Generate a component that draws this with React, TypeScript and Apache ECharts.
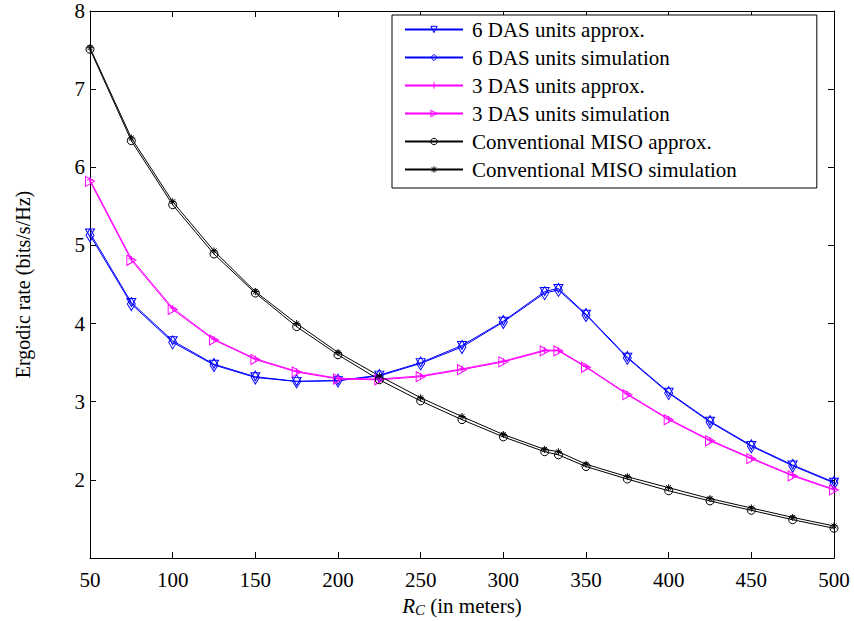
import React, { useEffect, useRef } from "react";
import * as echarts from "echarts";

const xs = [50, 75, 100, 125, 150, 175, 200, 225, 250, 275, 300, 325, 333.33, 350, 375, 400, 425, 450, 475, 500];

const das6Approx = [5.16, 4.27, 3.78, 3.48, 3.32, 3.26, 3.27, 3.34, 3.5, 3.72, 4.03, 4.41, 4.45, 4.12, 3.57, 3.12, 2.75, 2.44, 2.19, 1.97];
const das6Sim = [5.13, 4.25, 3.76, 3.47, 3.31, 3.26, 3.27, 3.33, 3.49, 3.7, 4.02, 4.39, 4.43, 4.11, 3.56, 3.11, 2.74, 2.43, 2.18, 1.96];
const das3Approx = [5.84, 4.83, 4.2, 3.8, 3.55, 3.39, 3.3, 3.29, 3.33, 3.42, 3.52, 3.66, 3.66, 3.45, 3.1, 2.78, 2.51, 2.28, 2.06, 1.88];
const das3Sim = [5.82, 4.81, 4.18, 3.79, 3.54, 3.38, 3.29, 3.28, 3.32, 3.41, 3.51, 3.65, 3.65, 3.44, 3.09, 2.77, 2.5, 2.27, 2.05, 1.87];
const misoApprox = [7.51, 6.34, 5.52, 4.89, 4.39, 3.96, 3.6, 3.28, 3.01, 2.77, 2.55, 2.36, 2.32, 2.17, 2.01, 1.86, 1.73, 1.61, 1.49, 1.38];
const misoSim = [7.53, 6.375, 5.56, 4.93, 4.41, 4.0, 3.63, 3.33, 3.05, 2.81, 2.58, 2.39, 2.36, 2.2, 2.04, 1.9, 1.76, 1.64, 1.52, 1.41];

const seriesNames = [
  "6 DAS units approx.",
  "6 DAS units simulation",
  "3 DAS units approx.",
  "3 DAS units simulation",
  "Conventional MISO approx.",
  "Conventional MISO simulation",
];

const FONT = "'Liberation Serif', 'DejaVu Serif', serif";

const SYM_TRI_DOWN = "path://M0,0 L10,0 L5,9 Z";
const SYM_DIAMOND = "path://M5,0 L9,8 L5,16 L1,8 Z";
const SYM_PLUS = "path://M5,0 L5,10 M0,5 L10,5";
const SYM_TRI_RIGHT = "path://M0,0 L9,5 L0,10 Z";
const SYM_CIRCLE = "path://M5,0 A5,5 0 1,1 4.99,0 Z";
const SYM_STAR = "path://M5,0 L5,10 M0,5 L10,5 M1.5,1.5 L8.5,8.5 M8.5,1.5 L1.5,8.5";

export default function App() {
  const ref = useRef<HTMLDivElement>(null);
  useEffect(() => {
    if (!ref.current) return;
    const chart = echarts.init(ref.current, null, { renderer: "svg" });
    const mk = (name: string, ys: number[], color: string, symbol: string, size: number | number[]) => ({
      name,
      type: "line",
      data: xs.map((x, i) => [x, ys[i]]),
      symbol,
      symbolSize: size,
      showAllSymbol: true,
      lineStyle: { color, width: 1 },
      itemStyle: { color: "rgba(0,0,0,0)", borderColor: color, borderWidth: 1 },
      emphasis: { disabled: true },
      z: 3,
    });
    const axisLine = { show: true, lineStyle: { color: "#000", width: 1 } };
    const tick = { inside: true, length: 6, lineStyle: { color: "#000" } };
    chart.setOption({
      animation: false,
      backgroundColor: "#fff",
      grid: { left: 90, right: 20, top: 11, bottom: 63, outerBoundsMode: "none", containLabel: false },
      legend: {
        data: seriesNames,
        orient: "vertical",
        left: 392,
        top: 15,
        itemWidth: 58,
        itemHeight: 8,
        itemGap: 7,
        padding: [4, 80, 8, 12],
        borderColor: "#000",
        borderWidth: 1,
        backgroundColor: "#fff",
        itemStyle: { color: "rgba(0,0,0,0)", borderWidth: 1 },
        textStyle: { fontFamily: FONT, fontSize: 21, color: "#000", padding: [0, 0, 0, 4] },
      },
      xAxis: [
        {
          type: "value",
          min: 50,
          max: 500,
          interval: 50,
          axisLine,
          axisTick: tick,
          axisLabel: { fontFamily: FONT, fontSize: 21, color: "#000", margin: 11 },
          splitLine: { show: false },
          name: "{i|R}{s|C} (in meters)",
          nameLocation: "middle",
          nameGap: 36,
          nameTextStyle: {
            fontFamily: FONT,
            fontSize: 21,
            color: "#000",
            rich: {
              i: { fontFamily: FONT, fontSize: 21, fontStyle: "italic", color: "#000" },
              s: { fontFamily: FONT, fontSize: 15, fontStyle: "italic", color: "#000", padding: [8, 0, 0, 0] },
            },
          },
        },
        {
          type: "value",
          position: "top",
          min: 50,
          max: 500,
          interval: 50,
          axisLine,
          axisTick: tick,
          axisLabel: { show: false },
          splitLine: { show: false },
        },
      ],
      yAxis: [
        {
          type: "value",
          min: 1,
          max: 8,
          interval: 1,
          axisLine,
          axisTick: tick,
          axisLabel: { fontFamily: FONT, fontSize: 21, color: "#000", margin: 5, showMinLabel: false },
          splitLine: { show: false },
          name: "Ergodic rate (bits/s/Hz)",
          nameLocation: "middle",
          nameGap: 57,
          nameTextStyle: { fontFamily: FONT, fontSize: 20, color: "#000" },
        },
        {
          type: "value",
          position: "right",
          min: 1,
          max: 8,
          interval: 1,
          axisLine,
          axisTick: tick,
          axisLabel: { show: false },
          splitLine: { show: false },
        },
      ],
      series: [
        mk(seriesNames[0], das6Approx, "#0000ff", SYM_TRI_DOWN, [9, 8]),
        mk(seriesNames[1], das6Sim, "#0000ff", SYM_DIAMOND, [8, 13]),
        mk(seriesNames[2], das3Approx, "#ff00ff", SYM_PLUS, 6),
        mk(seriesNames[3], das3Sim, "#ff00ff", SYM_TRI_RIGHT, [9, 10]),
        mk(seriesNames[4], misoApprox, "#000000", SYM_CIRCLE, 8),
        mk(seriesNames[5], misoSim, "#000000", SYM_STAR, 7),
      ],
    });
    return () => chart.dispose();
  }, []);
  return <div ref={ref} style={{ width: 854, height: 621, position: "absolute", left: 0, top: 0 }} />;
}
